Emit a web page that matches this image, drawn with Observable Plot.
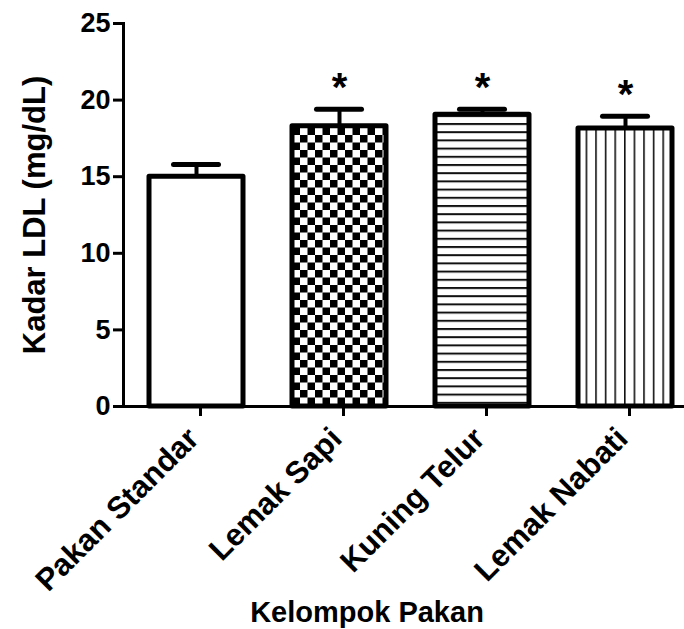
<!DOCTYPE html>
<html>
<head>
<meta charset="utf-8">
<script src="https://cdn.jsdelivr.net/npm/d3@7"></script>
<script src="https://cdn.jsdelivr.net/npm/@observablehq/plot@0.6"></script>
<style>
  html, body { margin: 0; padding: 0; background: #fff; }
</style>
</head>
<body>
<div id="chart"></div>
<script>
// ---- data ----
const groups = ["Pakan Standar", "Lemak Sapi", "Kuning Telur", "Lemak Nabati"];
const means = [15.0, 18.3, 19.05, 18.15];
const sems = [0.8, 1.1, 0.35, 0.8];
const marks = ["", "*", "*", "*"];
const yTicks = [0, 5, 10, 15, 20, 25];
const yLabel = "Kadar LDL (mg/dL)";
const xLabel = "Kelompok Pakan";

// ---- styling ----
const fills = ["white", "url(#pat-check)", "url(#pat-hlines)", "url(#pat-vlines)"];
const font = "'Liberation Sans', Arial, Helvetica, sans-serif";

const data = groups.map((g, i) => ({group: g, mean: means[i], sem: sems[i], star: marks[i], fill: fills[i]}));

const svg = Plot.plot({
  width: 684,
  height: 629,
  marginLeft: 123,
  marginRight: 0,
  marginTop: 23,
  marginBottom: 223,
  style: {fontFamily: font, background: "white", color: "black", overflow: "hidden"},
  x: {domain: groups, range: [124, 696], paddingInner: 0.343, paddingOuter: 0.1715, label: null},
  y: {domain: [0, 25], label: null},
  marks: [
    Plot.barY(data, {x: "group", y: "mean", fill: "fill", stroke: "black", strokeWidth: 5, strokeLinejoin: "round"}),
    Plot.ruleX(data, {x: "group", y1: "mean", y2: d => d.mean + d.sem, stroke: "black", strokeWidth: 4}),
    Plot.tickY(data, {x: "group", y: d => d.mean + d.sem, stroke: "black", strokeWidth: 5, strokeLinecap: "round", insetLeft: 24.5, insetRight: 24.5}),
    Plot.text(data, {x: "group", y: d => d.mean + d.sem, text: "star", dy: -8, lineAnchor: "bottom", fontSize: 40, fontWeight: "bold", fill: "black"}),
    Plot.frame({anchor: "left", stroke: "black", strokeWidth: 3}),
    Plot.frame({anchor: "bottom", stroke: "black", strokeWidth: 3}),
    Plot.axisY({ticks: yTicks, tickSize: 10, tickPadding: 3, strokeWidth: 3, fontSize: 27, fontWeight: "bold", label: null}),
    Plot.axisX({tickSize: 10, tickPadding: 24, tickRotate: -45, textAnchor: "end", lineAnchor: "bottom", dx: 4, strokeWidth: 3, fontSize: 31, fontWeight: "bold", label: null}),
    Plot.text([yLabel], {frameAnchor: "left", textAnchor: "middle", dx: -88, rotate: -90, fontSize: 31, fontWeight: "bold", fill: "black"}),
    Plot.text([xLabel], {frameAnchor: "bottom", textAnchor: "middle", dx: -37, dy: 215, lineAnchor: "bottom", fontSize: 29, fontWeight: "bold", fill: "black"})
  ]
});

// pattern definitions
const defs = d3.select(svg).insert("defs", ":first-child");
const chk = defs.append("pattern").attr("id", "pat-check").attr("patternUnits", "userSpaceOnUse")
  .attr("width", 15).attr("height", 15);
chk.append("rect").attr("width", 15).attr("height", 15).attr("fill", "white");
chk.append("rect").attr("width", 7.5).attr("height", 7.5).attr("fill", "black");
chk.append("rect").attr("x", 7.5).attr("y", 7.5).attr("width", 7.5).attr("height", 7.5).attr("fill", "black");

const hl = defs.append("pattern").attr("id", "pat-hlines").attr("patternUnits", "userSpaceOnUse")
  .attr("width", 20).attr("height", 8.2);
hl.append("rect").attr("width", 20).attr("height", 8.2).attr("fill", "white");
hl.append("rect").attr("y", 0).attr("width", 20).attr("height", 2).attr("fill", "#111");

const vl = defs.append("pattern").attr("id", "pat-vlines").attr("patternUnits", "userSpaceOnUse")
  .attr("width", 9.6).attr("height", 20);
vl.append("rect").attr("width", 9.6).attr("height", 20).attr("fill", "white");
vl.append("rect").attr("x", 0).attr("width", 1.6).attr("height", 20).attr("fill", "#111");

document.getElementById("chart").appendChild(svg);
</script>
</body>
</html>
